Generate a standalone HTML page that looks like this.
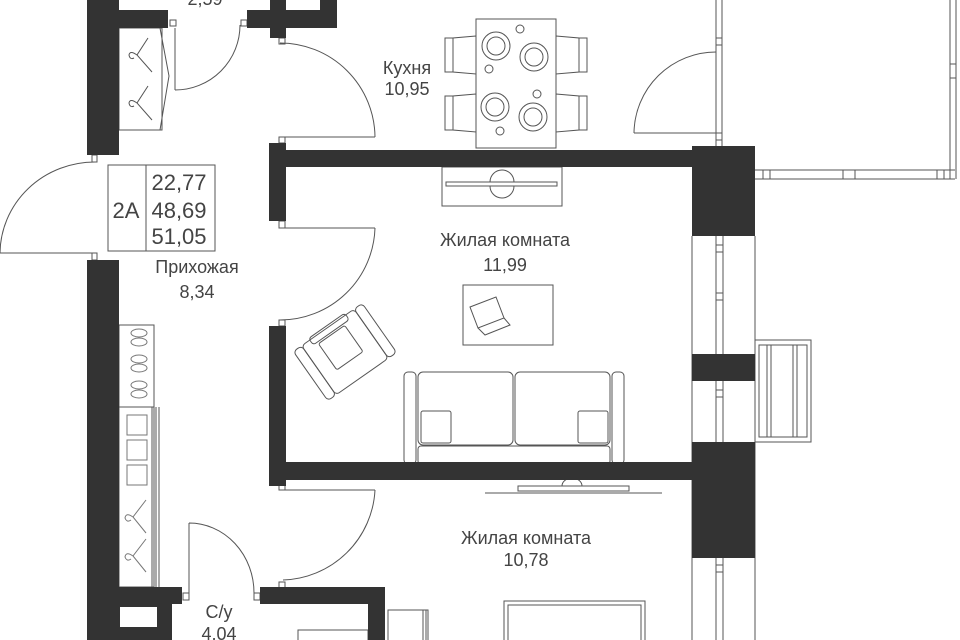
<!DOCTYPE html>
<html><head><meta charset="utf-8"><style>
html,body{margin:0;padding:0;background:#fff;width:960px;height:640px;overflow:hidden}
svg{display:block}
text{font-family:"Liberation Sans",sans-serif;fill:#444;text-anchor:middle}
</style></head><body>
<svg width="960" height="640" viewBox="0 0 960 640" xmlns="http://www.w3.org/2000/svg">
<g fill="none" stroke="#555" stroke-width="1">
<line x1="716" y1="0" x2="716" y2="146"/><line x1="722" y1="0" x2="722" y2="146"/>
<rect x="716" y="38" width="6" height="7"/><rect x="716" y="133" width="6" height="7"/>
<line x1="755" y1="170" x2="955" y2="170"/><line x1="755" y1="179" x2="955" y2="179"/>
<line x1="950" y1="0" x2="950" y2="179"/><line x1="956" y1="0" x2="956" y2="179"/>
<rect x="763" y="170" width="7" height="9"/><rect x="843" y="170" width="12" height="9"/><rect x="937" y="170" width="7" height="9"/>
<rect x="950" y="64" width="6" height="14"/>
<line x1="692" y1="236" x2="692" y2="640"/><line x1="755" y1="236" x2="755" y2="640"/>
<line x1="716" y1="236" x2="716" y2="640"/><line x1="723" y1="236" x2="723" y2="640"/>
<rect x="716" y="245" width="7" height="7"/><rect x="716" y="293" width="7" height="7"/><rect x="716" y="390" width="7" height="7"/><rect x="716" y="565" width="7" height="7"/>
<rect x="755" y="340" width="56" height="102"/><rect x="759" y="345" width="48" height="92"/>
<line x1="767" y1="345" x2="767" y2="437"/><line x1="771" y1="345" x2="771" y2="437"/><line x1="793" y1="345" x2="793" y2="437"/><line x1="797" y1="345" x2="797" y2="437"/>
<path d="M634,133 H716 M634,133 A82,82 0 0 1 716,52"/>
<path d="M0,253 H95 M0,253 A95,92 0 0 1 95,162"/>
<rect x="92" y="155" width="5" height="7"/><rect x="92" y="253" width="5" height="7"/>
<path d="M175,28 V90 M175,90 A65,65 0 0 0 240,25"/>
<rect x="170" y="20" width="6" height="6"/><rect x="241" y="20" width="6" height="6"/>
<path d="M280,137 H375 M375,137 A95,95 0 0 0 280,43"/>
<rect x="279" y="38" width="6" height="6"/><rect x="279" y="137" width="6" height="6"/>
<path d="M280,228 H375 M375,228 A95,95 0 0 1 280,320"/>
<rect x="279" y="221" width="6" height="7"/><rect x="279" y="320" width="6" height="6"/>
<path d="M280,490 H375 M375,490 A95,95 0 0 1 283,580"/>
<rect x="279" y="480" width="6" height="10"/><rect x="279" y="582" width="6" height="6"/>
<path d="M189,523 V593 M189,523 A65,70 0 0 1 254,593"/>
<rect x="183" y="593" width="6" height="7"/><rect x="254" y="593" width="6" height="7"/>
<rect x="119" y="28" width="43" height="102"/>
<path d="M160,28 L169,76 L160,130"/>
<path d="M148,38 L137,55 L152,72 M137,55 Q130,50 129,55 Q130,60 134,58"/>
<path d="M148,86 L137,103 L152,120 M137,103 Q130,98 129,103 Q130,108 134,106"/>
<rect x="108" y="165" width="107" height="86"/><line x1="146" y1="165" x2="146" y2="251"/>
<rect x="119" y="325" width="35" height="82"/><rect x="119" y="407" width="35" height="180"/>
<line x1="152" y1="407" x2="152" y2="587"/><line x1="156" y1="407" x2="156" y2="587"/><line x1="159" y1="407" x2="159" y2="587"/>
<g stroke="#777">
<ellipse cx="139" cy="333" rx="8" ry="4"/><ellipse cx="139" cy="342" rx="8" ry="4"/>
<ellipse cx="139" cy="359" rx="8" ry="4"/><ellipse cx="139" cy="368" rx="8" ry="4"/>
<ellipse cx="139" cy="385" rx="8" ry="4"/><ellipse cx="139" cy="394" rx="8" ry="4"/>
<rect x="127" y="415" width="20" height="20"/><rect x="127" y="440" width="20" height="20"/><rect x="127" y="465" width="20" height="20"/>
<path d="M146,500 L133,517 L146,533 M133,517 Q126,512 125,518 Q127,523 131,520"/>
<path d="M146,539 L133,556 L146,572 M133,556 Q126,551 125,557 Q127,562 131,559"/>
</g>
<rect x="476" y="19" width="80" height="129"/>
<path d="M476,36 L453,38 V72 L476,74 Z M445,38 h8 v34 h-8 Z"/>
<path d="M476,94 L453,96 V130 L476,132 Z M445,96 h8 v34 h-8 Z"/>
<path d="M556,36 L579,38 V72 L556,74 Z M587,38 h-8 v34 h8 Z"/>
<path d="M556,94 L579,96 V130 L556,132 Z M587,96 h-8 v34 h8 Z"/>
<circle cx="496" cy="46" r="14"/><circle cx="496" cy="46" r="9"/>
<circle cx="534" cy="57" r="14"/><circle cx="534" cy="57" r="9"/>
<circle cx="495" cy="107" r="14"/><circle cx="495" cy="107" r="9"/>
<circle cx="533" cy="117" r="14"/><circle cx="533" cy="117" r="9"/>
<circle cx="520" cy="29" r="4"/><circle cx="489" cy="69" r="4"/><circle cx="500" cy="131" r="4"/><circle cx="537" cy="94" r="4"/>
<rect x="442" y="167" width="120" height="39"/><rect x="446" y="182" width="111" height="4"/>
<path d="M490,182 A12,12 0 0 1 514,182 M490,186 A12,12 0 0 0 514,186"/>
<rect x="463" y="285" width="90" height="60"/>
<path d="M470,307 L496,297 L504,318 L478,328 Z M478,328 L485,335 L510,325 L504,318"/>
<g transform="translate(345,352) rotate(-35)">
<rect x="-32" y="-30" width="64" height="60" rx="4"/><rect x="-42" y="-30" width="10" height="60" rx="4"/><rect x="32" y="-30" width="10" height="60" rx="4"/>
<rect x="-22" y="-32" width="44" height="8" rx="3"/><rect x="-17" y="-22" width="32" height="32" rx="2"/>
</g>
<rect x="404" y="372" width="12" height="92" rx="4"/><rect x="612" y="372" width="12" height="92" rx="4"/>
<rect x="418" y="372" width="95" height="73" rx="5"/><rect x="515" y="372" width="95" height="73" rx="5"/>
<rect x="418" y="446" width="192" height="18" rx="3"/>
<rect x="421" y="411" width="30" height="32" rx="2"/><rect x="578" y="411" width="30" height="32" rx="2"/>
<line x1="485" y1="493" x2="662" y2="493"/><rect x="518" y="486" width="111" height="5"/>
<path d="M562,486 A10,8 0 0 1 582,486"/>
<rect x="504" y="601" width="141" height="45"/><rect x="508" y="605" width="133" height="45"/>
<rect x="298" y="630" width="70" height="20"/><rect x="388" y="610" width="40" height="40"/>
<line x1="423" y1="610" x2="423" y2="640"/><line x1="426" y1="610" x2="426" y2="640"/>
</g>
<g fill="#333">
<rect x="87" y="0" width="32" height="155"/>
<rect x="119" y="10" width="49" height="18"/>
<rect x="247" y="10" width="90" height="18"/><rect x="270" y="0" width="16" height="38"/><rect x="320" y="0" width="17" height="28"/>
<rect x="87" y="260" width="32" height="380"/>
<rect x="87" y="587" width="95" height="17"/>
<rect x="87" y="604" width="85" height="36"/>
<rect x="269" y="143" width="17" height="78"/>
<rect x="286" y="150" width="410" height="17"/>
<rect x="692" y="146" width="63" height="90"/>
<rect x="692" y="354" width="63" height="27"/>
<rect x="269" y="326" width="17" height="160"/>
<rect x="286" y="462" width="406" height="18"/>
<rect x="692" y="442" width="63" height="116"/>
<rect x="260" y="587" width="125" height="17"/>
<rect x="368" y="604" width="17" height="36"/>
</g>
<rect x="120" y="607" width="37" height="20" fill="#fff"/>
<text x="205" y="5" font-size="18">2,59</text>
<text x="407" y="74" font-size="18">Кухня</text>
<text x="407" y="95" font-size="18">10,95</text>
<text x="126" y="218" font-size="22">2A</text>
<text x="179" y="190" font-size="22">22,77</text>
<text x="179" y="218" font-size="22">48,69</text>
<text x="179" y="244" font-size="22">51,05</text>
<text x="197" y="273" font-size="18">Прихожая</text>
<text x="197" y="298" font-size="18">8,34</text>
<text x="505" y="246" font-size="18">Жилая комната</text>
<text x="505" y="271" font-size="18">11,99</text>
<text x="526" y="544" font-size="18">Жилая комната</text>
<text x="526" y="566" font-size="18">10,78</text>
<text x="219" y="618" font-size="18">С/у</text>
<text x="219" y="640" font-size="18">4,04</text>
</svg>
</body></html>
